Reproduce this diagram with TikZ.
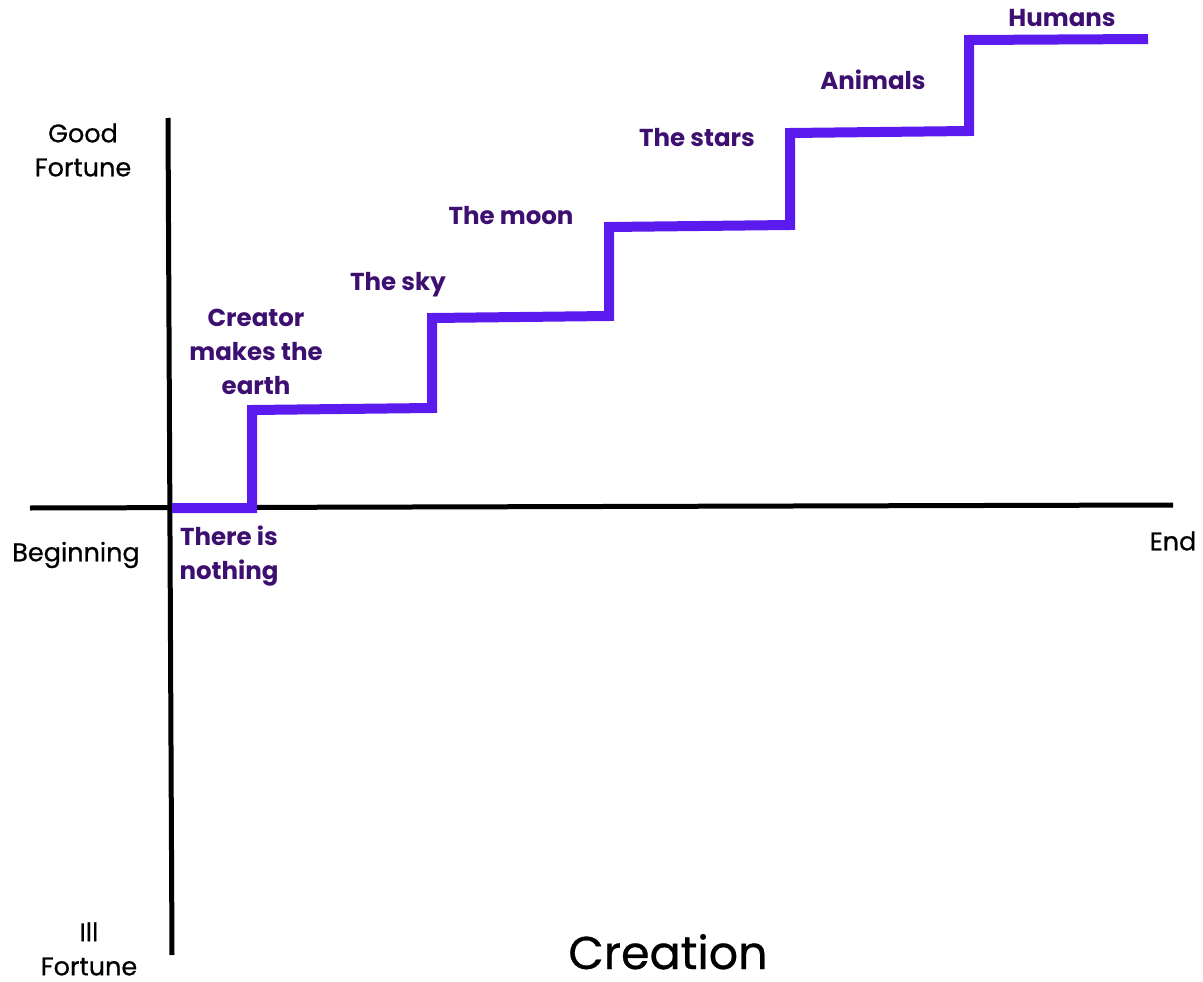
\documentclass[tikz,border=0pt]{standalone}
\usepackage{fontspec}
\setmainfont{Poppins}
\newfontfamily\medfont{Poppins}[FakeBold=0.6]
\definecolor{stair}{HTML}{5B1AEE}
\definecolor{lab}{HTML}{3D0F70}
\begin{document}
\begin{tikzpicture}[x=1pt,y=-1pt,
  axis/.style={line width=5pt,black},
  stairline/.style={line width=10pt,stair,line join=miter},
  axlab/.style={font=\medfont\fontsize{25.5}{34}\selectfont,align=center,text=black,inner sep=0pt},
  steplab/.style={font=\fontsize{24.5}{34}\selectfont\bfseries,align=center,text=lab,inner sep=0pt}]
\useasboundingbox[fill=white] (0,0) rectangle (1203,982);
% axes
\coordinate (hl) at (30,508);
\coordinate (hr) at (1173,505);
\coordinate (vt) at (168,118);
\coordinate (vb) at (172,955);
\draw[axis] (hl) -- (hr);
\draw[axis] (vt) -- (vb);
% staircase
\coordinate (s0) at (172,508);
\coordinate (s1) at (252,508);
\coordinate (s2) at (252,410);
\coordinate (s3) at (432,408);
\coordinate (s4) at (432,318);
\coordinate (s5) at (609,316);
\coordinate (s6) at (609,227);
\coordinate (s7) at (790,225);
\coordinate (s8) at (790,133);
\coordinate (s9) at (969,131);
\coordinate (s10) at (969,40);
\coordinate (s11) at (1148,39);
\draw[stairline] (s0) -- (s1) -- (s2) -- (s3) -- (s4) -- (s5) -- (s6) -- (s7) -- (s8) -- (s9) -- (s10) -- (s11);
% axis labels
\node[axlab] (good) at (83,150) {Good\\Fortune};
\node[axlab] (beg) at (76,555) {Beginning};
\node[axlab] (end) at (1173,541) {End};
\node[axlab] (ill) at (89,949) {Ill\\Fortune};
\node[font=\medfont\fontsize{46}{50}\selectfont,text=black,inner sep=0pt,anchor=base] (title) at (668,969) {Creation};
% step labels
\node[steplab] (nothing) at (229,556) {There is\\nothing};
\node[steplab] (earth) at (256,352) {Creator\\makes the\\earth};
\node[steplab] (sky) at (398,285) {The sky};
\node[steplab] (moon) at (511,216) {The moon};
\node[steplab] (stars) at (697,138) {The stars};
\node[steplab] (animals) at (873,80) {Animals};
\node[steplab] (humans) at (1062,18) {Humans};
\end{tikzpicture}
\end{document}
